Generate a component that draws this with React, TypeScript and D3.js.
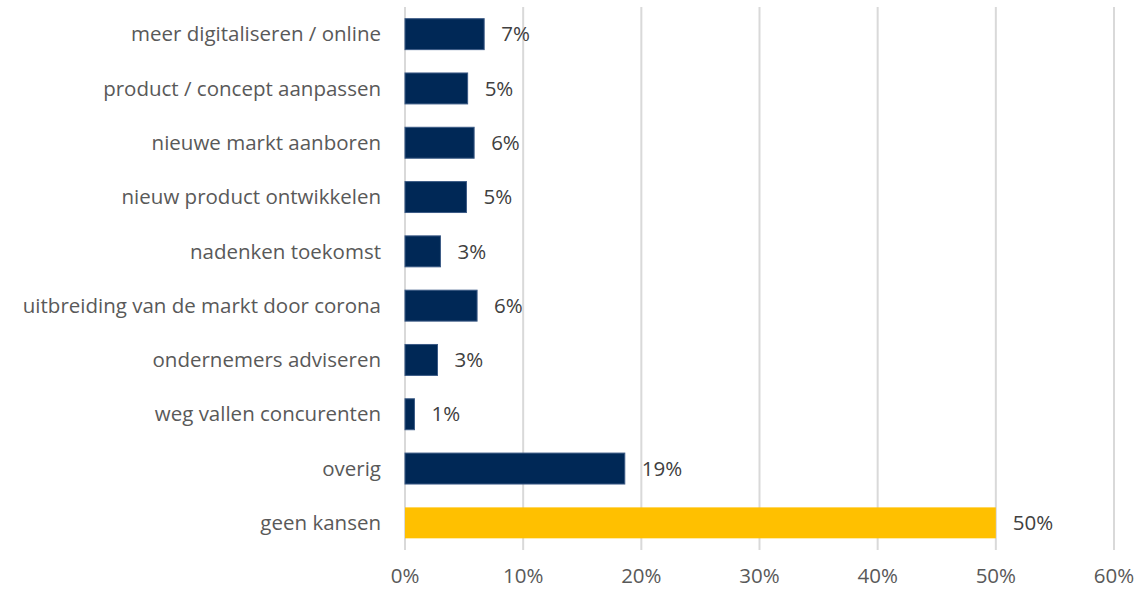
import React from "react";
import * as d3 from "d3";

const categories = [
  "meer digitaliseren / online",
  "product / concept aanpassen",
  "nieuwe markt aanboren",
  "nieuw product ontwikkelen",
  "nadenken toekomst",
  "uitbreiding van de markt door corona",
  "ondernemers adviseren",
  "weg vallen concurenten",
  "overig",
  "geen kansen",
];
const values = [6.7, 5.3, 5.85, 5.2, 3.0, 6.1, 2.75, 0.8, 18.6, 50];
const labels = ["7%", "5%", "6%", "5%", "3%", "6%", "3%", "1%", "19%", "50%"];
const xTicks = [0, 10, 20, 30, 40, 50, 60];

const W = 1138;
const H = 590;
const left = 405;
const right = 1114;
const top = 7;
const bottom = 550;
const font = "'Open Sans', sans-serif";
const fs = 20.5;

export default function App() {
  const x = d3.scaleLinear().domain([0, 60]).range([left, right]);
  const y = d3.scaleBand<string>().domain(categories).range([top, bottom]).paddingInner(0.43).paddingOuter(0.215);
  return (
    <svg width={W} height={H} style={{ position: "absolute", left: 0, top: 0 }}>
      <rect width={W} height={H} fill="#fff" />
      {xTicks.map((t) => (
        <g key={t}>
          <line x1={x(t)} x2={x(t)} y1={top} y2={bottom} stroke="#d9d9d9" strokeWidth={2} />
          <text x={x(t)} y={583} textAnchor="middle" fontFamily={font} fontSize={fs} fill="#595959">
            {t}%
          </text>
        </g>
      ))}
      {categories.map((c, i) => {
        const yy = y(c)!;
        const bw = y.bandwidth();
        const isLast = i === categories.length - 1;
        return (
          <g key={c}>
            <rect
              x={x(0)}
              y={yy}
              width={x(values[i]) - x(0)}
              height={bw}
              fill={isLast ? "#ffc000" : "#002856"}
              stroke={isLast ? "none" : "#3b5a85"}
              strokeWidth={1}
            />
            <text x={x(values[i]) + 17} y={yy + bw / 2} dy="0.35em" fontFamily={font} fontSize={fs} fill="#404040">
              {labels[i]}
            </text>
            <text x={381} y={yy + bw / 2} dy="0.35em" textAnchor="end" fontFamily={font} fontSize={fs} fill="#595959">
              {c}
            </text>
          </g>
        );
      })}
    </svg>
  );
}
